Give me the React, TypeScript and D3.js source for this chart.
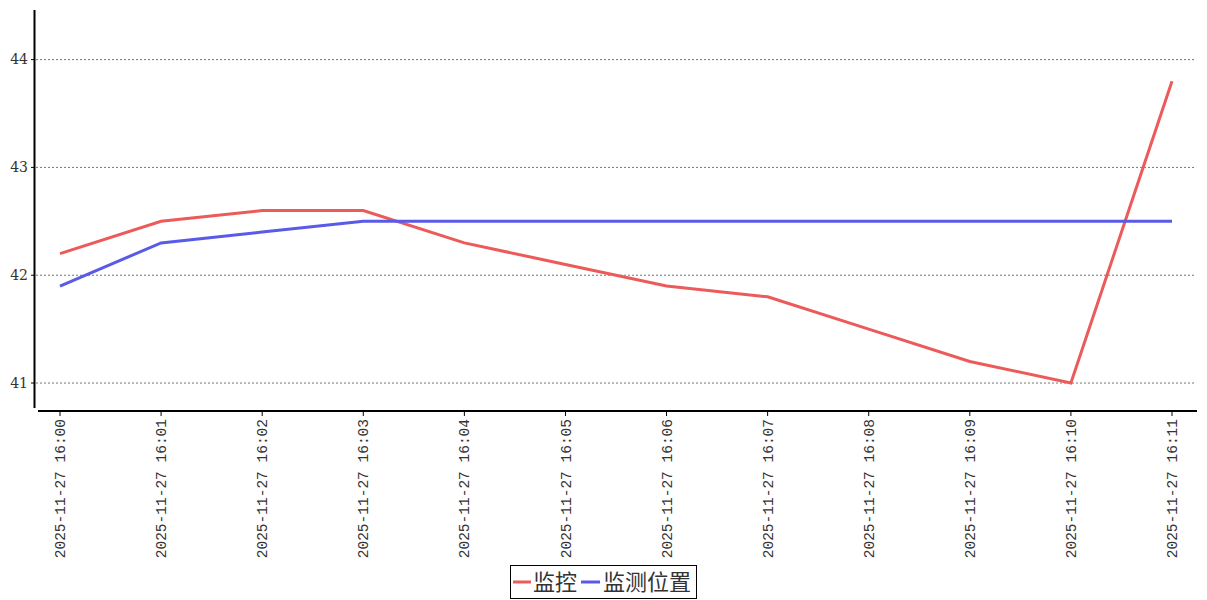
import React from "react";
import * as d3 from "d3";

const categories = [
  "2025-11-27  16:00", "2025-11-27  16:01", "2025-11-27  16:02", "2025-11-27  16:03",
  "2025-11-27  16:04", "2025-11-27  16:05", "2025-11-27  16:06", "2025-11-27  16:07",
  "2025-11-27  16:08", "2025-11-27  16:09", "2025-11-27  16:10", "2025-11-27  16:11",
];
const monitorValues = [42.2, 42.5, 42.6, 42.6, 42.3, 42.1, 41.9, 41.8, 41.5, 41.2, 41.0, 43.8];
const positionValues = [41.9, 42.3, 42.4, 42.5, 42.5, 42.5, 42.5, 42.5, 42.5, 42.5, 42.5, 42.5];
const yTicks = [41, 42, 43, 44];
const seriesNames = ["监控", "监测位置"];
const colors = ["#ec5a5a", "#5a5ae8"];

const W = 1207, H = 600;

export default function App() {
  const x = d3.scalePoint<string>().domain(categories).range([60, 1172]);
  const y = d3.scaleLinear().domain([40.75, 44.46]).range([410, 10]);
  const line = d3.line<number>().x((_, i) => x(categories[i]) as number).y((d) => y(d));
  const series = [monitorValues, positionValues];
  return (
    <svg width={W} height={H} style={{ position: "absolute", left: 0, top: 0, background: "#fff" }}>
      {yTicks.map((t) => (
        <g key={t}>
          <line x1={36} x2={1195} y1={y(t)} y2={y(t)} stroke="#777" strokeWidth={1} strokeDasharray="2,2" />
          <line x1={31} x2={34} y1={y(t)} y2={y(t)} stroke="#000" />
          <text x={28} y={y(t)} dy="0.35em" textAnchor="end" fontFamily="DejaVu Serif, serif" fontSize={14} fill="#333">{t}</text>
        </g>
      ))}
      <line x1={34.5} x2={34.5} y1={10} y2={408} stroke="#000" strokeWidth={2} />
      <line x1={38} x2={1197} y1={411} y2={411} stroke="#000" strokeWidth={2} />
      {categories.map((c) => {
        const px = x(c) as number;
        return (
          <g key={c}>
            <line x1={px} x2={px} y1={412} y2={416} stroke="#000" />
            <text transform={`translate(${px},${419}) rotate(-90)`} dy="0.35em" textAnchor="end"
              fontFamily="Liberation Mono, monospace" fontSize={14.5} fill="#333">{c}</text>
          </g>
        );
      })}
      {series.map((s, i) => (
        <path key={i} d={line(s) || ""} fill="none" stroke={colors[i]} strokeWidth={3} strokeLinejoin="miter" />
      ))}
      <g>
        <rect x={510.5} y={565.5} width={186} height={33} fill="#fff" stroke="#000" strokeWidth={1} />
        <line x1={513} x2={531} y1={582} y2={582} stroke={colors[0]} strokeWidth={3} />
        <text x={533} y={582} dy="0.35em" fontFamily="Noto Sans CJK SC, serif" fontSize={22} fill="#333">{seriesNames[0]}</text>
        <line x1={581} x2={600} y1={582} y2={582} stroke={colors[1]} strokeWidth={3} />
        <text x={603} y={582} dy="0.35em" fontFamily="Noto Sans CJK SC, serif" fontSize={22} fill="#333">{seriesNames[1]}</text>
      </g>
    </svg>
  );
}
